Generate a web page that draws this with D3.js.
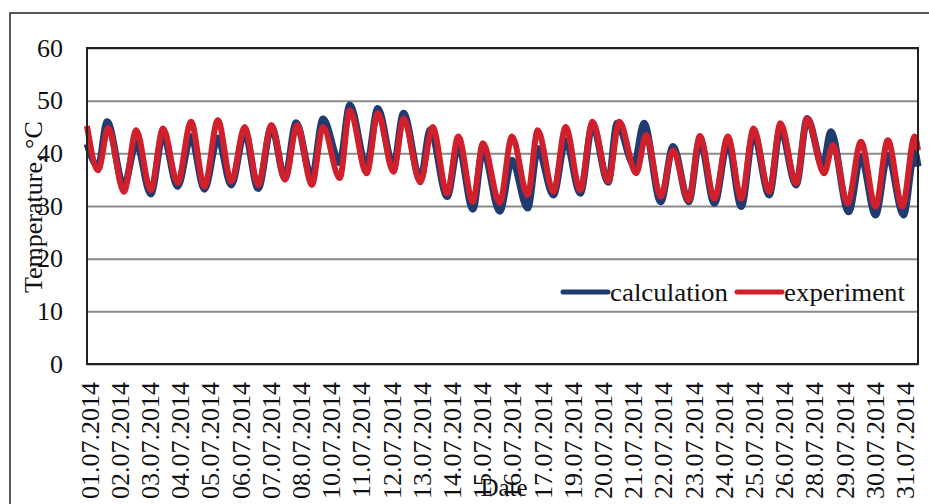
<!DOCTYPE html>
<html>
<head>
<meta charset="utf-8">
<script src="https://cdn.jsdelivr.net/npm/d3@7"></script>
<style>
  body { margin: 0; background: #fff; }
  svg { display: block; font-family: "Liberation Serif", "DejaVu Serif", serif; }
</style>
</head>
<body>
<div id="chart"></div>
<script>
// hour of month (0..743) and temperature at each daily peak / trough
const calculation = [
  [0, 41.8], [10, 37.5], [18, 46.0], [33, 33.8], [44, 42.0], [57, 32.3], [68, 43.5], [81, 33.7],
  [93, 43.2], [105, 33.2], [117, 42.9], [129, 34.0], [141, 44.0], [153, 33.3], [165, 45.0], [177, 35.3],
  [187, 45.8], [201, 35.3], [211, 46.5], [226, 38.2], [235, 49.2], [250, 37.5], [260, 48.5], [274, 37.5],
  [283, 47.6], [298, 35.0], [307, 44.5], [322, 31.8], [332, 41.5], [345, 29.4], [354, 40.6], [369, 29.0],
  [380, 38.7], [394, 29.6], [403, 40.9], [417, 32.1], [428, 42.5], [441, 32.4], [452, 45.4], [466, 34.5],
  [474, 45.7], [489, 37.8], [498, 45.7], [513, 30.8], [524, 41.3], [538, 30.8], [548, 42.5], [561, 30.5],
  [573, 42.2], [585, 29.9], [596, 43.8], [610, 32.1], [620, 44.7], [634, 34.0], [644, 46.6], [658, 37.5],
  [665, 44.1], [681, 28.9], [692, 39.4], [705, 28.3], [716, 39.7], [730, 28.3], [740, 40.3], [743, 37.5]
];
const experiment = [
  [0, 45.2], [10, 36.8], [19, 44.8], [33, 32.7], [44, 44.4], [57, 33.0], [68, 44.7], [81, 34.4],
  [93, 46.0], [105, 33.7], [117, 46.3], [129, 34.6], [141, 45.0], [153, 34.0], [165, 45.4], [177, 35.0],
  [188, 45.4], [201, 34.0], [211, 45.0], [226, 35.3], [235, 48.2], [250, 36.2], [260, 47.6], [274, 36.5],
  [283, 46.6], [298, 34.5], [309, 45.0], [322, 32.4], [332, 43.2], [345, 30.8], [354, 41.9], [369, 30.6],
  [380, 43.2], [394, 32.1], [403, 44.4], [417, 32.7], [428, 45.0], [441, 33.0], [452, 46.0], [466, 34.7],
  [476, 46.0], [491, 36.2], [500, 43.5], [513, 31.8], [524, 40.6], [538, 31.1], [548, 43.3], [561, 31.4],
  [573, 43.2], [585, 31.4], [596, 44.7], [610, 32.7], [620, 45.7], [634, 34.3], [644, 46.6], [659, 36.2],
  [667, 41.6], [680, 30.5], [692, 42.2], [705, 29.9], [716, 42.5], [729, 29.9], [740, 43.2], [743, 40.6]
];
const dateLabels = [
  "01.07.2014", "02.07.2014", "03.07.2014", "04.07.2014", "05.07.2014", "06.07.2014", "07.07.2014",
  "08.07.2014", "10.07.2014", "11.07.2014", "12.07.2014", "13.07.2014", "14.07.2014", "15.07.2014",
  "16.07.2014", "17.07.2014", "19.07.2014", "20.07.2014", "21.07.2014", "22.07.2014", "23.07.2014",
  "24.07.2014", "25.07.2014", "26.07.2014", "28.07.2014", "29.07.2014", "30.07.2014", "31.07.2014"
];
const labelStep = 27; // one date label every 27 hourly samples
const yTicks = [0, 10, 20, 30, 40, 50, 60];
const seriesNames = ["calculation", "experiment"];

const width = 929, height = 504;
const margin = { left: 87, top: 48, right: 11, bottom: 140 };
const plotW = width - margin.left - margin.right;
const plotH = height - margin.top - margin.bottom;
const colors = { calculation: "#1f3b70", experiment: "#d0202c" };

const svg = d3.select("#chart").append("svg")
  .attr("width", width)
  .attr("height", height);

// outer chart frame
svg.append("rect")
  .attr("x", 10).attr("y", 13)
  .attr("width", width + 20).attr("height", height + 20)
  .attr("fill", "none").attr("stroke", "#222").attr("stroke-width", 1.5);

const g = svg.append("g")
  .attr("transform", "translate(" + margin.left + "," + margin.top + ")");

const x = d3.scaleLinear().domain([0, 743]).range([0, plotW]);
const y = d3.scaleLinear().domain([0, 60]).range([plotH, 0]);

// gridlines
g.append("g")
  .call(d3.axisLeft(y).tickValues(yTicks).tickSize(-plotW).tickFormat(""))
  .call(a => a.select(".domain").remove())
  .selectAll("line")
  .attr("stroke", "#8a8a8a").attr("stroke-width", 2);

// y tick labels
g.append("g")
  .call(d3.axisLeft(y).tickValues(yTicks).tickSize(0).tickPadding(24))
  .call(a => a.select(".domain").remove())
  .selectAll("text")
  .attr("font-family", "Liberation Serif")
  .attr("font-size", 26)
  .attr("fill", "#111");

// x tick labels
const xAxis = g.append("g")
  .attr("transform", "translate(0," + plotH + ")")
  .call(d3.axisBottom(x)
    .tickValues(dateLabels.map((d, i) => i * labelStep))
    .tickSize(0)
    .tickFormat((d, i) => dateLabels[i]));
xAxis.select(".domain").remove();
xAxis.selectAll("text")
  .attr("font-family", "Liberation Serif")
  .attr("font-size", 26)
  .attr("fill", "#111")
  .attr("text-anchor", "end")
  .attr("transform", "rotate(-90)")
  .attr("x", -18)
  .attr("y", 2)
  .attr("dy", "0.35em");

const line = d3.line()
  .x(d => x(d[0]))
  .y(d => y(d[1]))
  .curve(d3.curveMonotoneX);

g.append("path")
  .datum(calculation)
  .attr("d", line)
  .attr("fill", "none")
  .attr("stroke", colors.calculation)
  .attr("stroke-width", 7)
  .attr("stroke-linejoin", "round");

g.append("path")
  .datum(experiment)
  .attr("d", line)
  .attr("fill", "none")
  .attr("stroke", colors.experiment)
  .attr("stroke-width", 6)
  .attr("stroke-linejoin", "round");

// plot border
g.append("rect")
  .attr("width", plotW).attr("height", plotH)
  .attr("fill", "none").attr("stroke", "#222").attr("stroke-width", 2);

// axis titles
svg.append("text")
  .attr("transform", "translate(42,293) rotate(-90)")
  .attr("font-size", 26)
  .attr("fill", "#111")
  .text("Temperature, °C");

svg.append("text")
  .attr("x", 504).attr("y", 496)
  .attr("text-anchor", "middle")
  .attr("font-size", 25)
  .attr("fill", "#111")
  .text("Date");

// legend
const legend = svg.append("g");
const legendX = [563, 737];
const legendW = [118, 121];
seriesNames.forEach((name, i) => {
  legend.append("line")
    .attr("x1", legendX[i]).attr("x2", legendX[i] + 45)
    .attr("y1", 292).attr("y2", 292)
    .attr("stroke", colors[name]).attr("stroke-width", 5)
    .attr("stroke-linecap", "round");
  legend.append("text")
    .attr("x", legendX[i] + 47).attr("y", 301)
    .attr("font-size", 26)
    .attr("fill", "#111")
    .attr("textLength", legendW[i])
    .attr("lengthAdjust", "spacingAndGlyphs")
    .text(name);
});
</script>
</body>
</html>
